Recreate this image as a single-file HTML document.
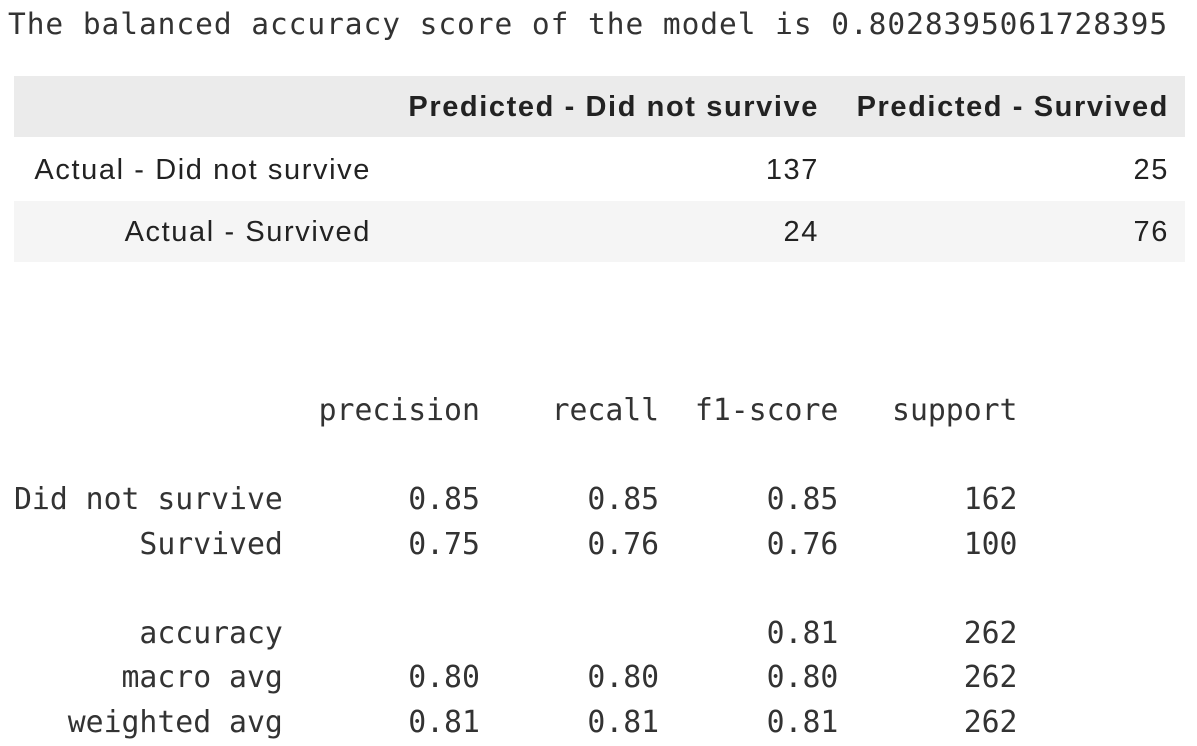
<!DOCTYPE html>
<html><head><meta charset="utf-8">
<style>
html,body{margin:0;padding:0;background:#fff;width:1197px;height:746px;overflow:hidden;position:relative}
.mono{font-family:"DejaVu Sans Mono","Liberation Mono",monospace;color:#333;}
.sans{font-family:"Liberation Sans","DejaVu Sans",sans-serif;color:#222;font-size:29px;letter-spacing:1.6px}
.abs{position:absolute;white-space:pre;line-height:1}
.band{position:absolute;left:14px;width:1171px}
</style></head><body>
<div class="abs mono" style="left:8px;top:10px;font-size:29.5px;letter-spacing:0.95px">The balanced accuracy score of the model is 0.8028395061728395</div>

<div>
<div class="band" style="top:76px;height:61px;background:#ebebeb"></div>
<div class="band" style="top:201px;height:61px;background:#f5f5f5"></div>
<div class="abs sans" style="right:378px;top:93px;font-weight:bold">Predicted - Did not survive</div>
<div class="abs sans" style="right:28px;top:93px;font-weight:bold">Predicted - Survived</div>
<div class="abs sans" style="right:826px;top:156px">Actual - Did not survive</div>
<div class="abs sans" style="right:378px;top:156px">137</div>
<div class="abs sans" style="right:28px;top:156px">25</div>
<div class="abs sans" style="right:826px;top:218px">Actual - Survived</div>
<div class="abs sans" style="right:378px;top:218px">24</div>
<div class="abs sans" style="right:28px;top:218px">76</div>
</div>

<pre class="abs mono" style="left:14px;top:389px;margin:0;font-size:29.8px;line-height:44.5px;letter-spacing:-0.02px">                 precision    recall  f1-score   support

Did not survive       0.85      0.85      0.85       162
       Survived       0.75      0.76      0.76       100

       accuracy                           0.81       262
      macro avg       0.80      0.80      0.80       262
   weighted avg       0.81      0.81      0.81       262</pre>
</body></html>
